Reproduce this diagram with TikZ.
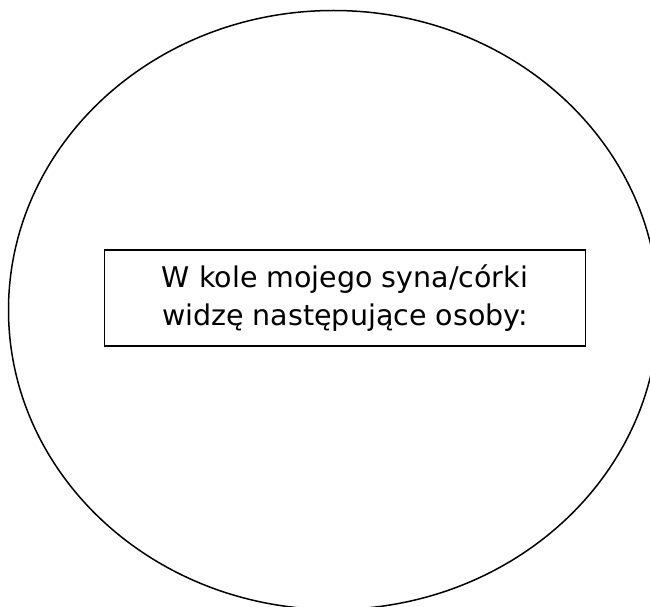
\documentclass[tikz,border=0pt]{standalone}
\usepackage{fontspec}
\setmainfont{DejaVu Sans}
\begin{document}
\begin{tikzpicture}[x=1pt,y=-1pt,
  ring/.style={draw=black,line width=1.5pt},
  label box/.style={draw=black,line width=1.5pt,minimum width=481pt,minimum height=96pt,inner sep=0pt,align=center,font=\fontsize{28.5}{38}\selectfont}]
\useasboundingbox (0,0) rectangle (650,607);
\begin{scope}
\clip (0,0) rectangle (650,607);
\draw[ring] (333.5,310) ellipse [x radius=325, y radius=299.5];
\end{scope}
\node[label box] (txt) at (345,298) {W kole mojego syna/córki\\widzę następujące osoby:};
\end{tikzpicture}
\end{document}
